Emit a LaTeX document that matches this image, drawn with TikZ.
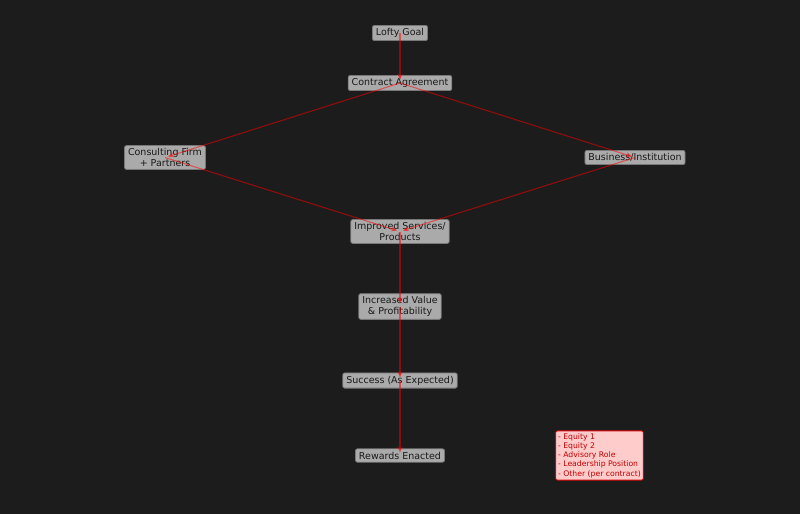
\documentclass[tikz,border=0pt]{standalone}
\usepackage{fontspec}
\setmainfont{DejaVu Sans}
\usetikzlibrary{arrows.meta}
\definecolor{bgc}{RGB}{28,28,28}
\definecolor{boxfill}{RGB}{170,170,170}
\definecolor{boxline}{RGB}{120,120,120}
\definecolor{legfill}{RGB}{255,204,204}
\definecolor{legtext}{RGB}{190,0,0}
\tikzset{
  stage/.style={draw=boxline, fill=boxfill, rounded corners=2pt, line width=0.8pt,
    inner xsep=3.5pt, inner ysep=3pt, align=center, text=black!90,
    font=\fontsize{9.5}{10.5}\selectfont},
  legendbox/.style={draw=red!85!black, fill=legfill, rounded corners=2pt, line width=0.8pt,
    inner xsep=2.5pt, inner ysep=2.5pt, align=left, text=legtext,
    font=\fontsize{7.7}{9.2}\selectfont},
  flow/.style={draw=red, opacity=0.5, line width=1.1pt, shorten >=3pt,
    -{Stealth[length=6pt,width=5pt]}}
}
\begin{document}
\begin{tikzpicture}[x=1pt,y=-1pt]
\useasboundingbox[fill=bgc] (0,0) rectangle (800,514);
\node[stage] (goal) at (400,33) {Lofty Goal};
\node[stage] (contract) at (400,83) {Contract Agreement};
\node[stage] (consult) at (165,157.5) {Consulting Firm\\+ Partners};
\node[stage] (business) at (635,157.5) {Business/Institution};
\node[stage] (improved) at (400,231.5) {Improved Services/\\Products};
\node[stage] (value) at (400,306.5) {Increased Value\\\& Profitability};
\node[stage] (success) at (400,380.5) {Success (As Expected)};
\node[stage] (rewards) at (400,455.5) {Rewards Enacted};
\node[legendbox] (legend) at (599.5,455.5) {- Equity 1\\- Equity 2\\- Advisory Role\\- Leadership Position\\- Other (per contract)};
\draw[flow] (goal.center) -- (contract.center);
\draw[flow] (contract.center) -- (consult.center);
\draw[flow] (contract.center) -- (business.center);
\draw[flow] (consult.center) -- (improved.center);
\draw[flow] (business.center) -- (improved.center);
\draw[flow] (improved.center) -- (value.center);
\draw[flow] (value.center) -- (success.center);
\draw[flow] (success.center) -- (rewards.center);
\end{tikzpicture}
\end{document}
